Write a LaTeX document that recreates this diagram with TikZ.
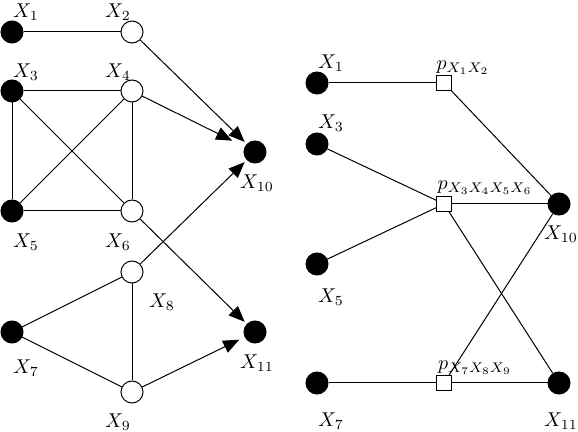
\documentclass[tikz,border=0pt]{standalone}
\usetikzlibrary{arrows.meta}
\begin{document}
\begin{tikzpicture}[x=0.5pt,y=-0.5pt,
  every path/.style={line width=0.5pt},
  obs/.style={circle,draw,fill=black,minimum size=11pt,inner sep=0pt},
  hid/.style={circle,draw,fill=white,minimum size=11pt,inner sep=0pt},
  fac/.style={rectangle,draw,fill=white,minimum size=7.5pt,inner sep=0pt},
  lab/.style={inner sep=0pt},
  arr/.style={-{Triangle[length=8pt,width=6.5pt]},shorten >=1.5pt}]
\useasboundingbox (0,0) rectangle (578,432);
% left graph
\node[obs] (a1) at (12,32) {};
\node[hid] (a2) at (132,32) {};
\node[obs] (a3) at (12,91) {};
\node[hid] (a4) at (132,91) {};
\node[obs] (a5) at (12,211) {};
\node[hid] (a6) at (132,211) {};
\node[obs] (a10) at (255,152) {};
\node[hid] (a8) at (132,272) {};
\node[obs] (a7) at (12,332) {};
\node[hid] (a9) at (132,392) {};
\node[obs] (a11) at (255,332) {};
\node[lab] (la1) at (26,12) {$X_1$};
\node[lab] (la2) at (118,12) {$X_2$};
\node[lab] (la3) at (26,72) {$X_3$};
\node[lab] (la4) at (118,72) {$X_4$};
\node[lab] (la5) at (26,242) {$X_5$};
\node[lab] (la6) at (118,242) {$X_6$};
\node[lab] (la8) at (162,302) {$X_8$};
\node[lab] (la7) at (26,368) {$X_7$};
\node[lab] (la9) at (118,422) {$X_9$};
\node[lab] (la10) at (257,183) {$X_{10}$};
\node[lab] (la11) at (257,363) {$X_{11}$};
\draw (a1) -- (a2);
\draw (a3) -- (a4);
\draw (a3) -- (a5);
\draw (a3) -- (a6);
\draw (a4) -- (a5);
\draw (a4) -- (a6);
\draw (a5) -- (a6);
\draw (a7) -- (a8);
\draw (a7) -- (a9);
\draw (a8) -- (a9);
\draw[arr] (a2) -- (a10);
\draw[arr,shorten >=7pt] (a4) -- (a10);
\draw[arr] (a8) -- (a10);
\draw[arr] (a6) -- (a11);
\draw[arr,shorten >=3pt] (a9) -- (a11);
% right graph
\node[obs] (b1) at (317,83) {};
\node[obs] (b3) at (317,144) {};
\node[obs] (b5) at (317,264) {};
\node[obs] (b7) at (317,383) {};
\node[obs] (b10) at (559,204) {};
\node[obs] (b11) at (559,383) {};
\node[fac] (p1) at (444,83) {};
\node[fac] (p2) at (444,204) {};
\node[fac] (p3) at (444,383) {};
\node[lab] (lb1) at (331,63) {$X_1$};
\node[lab] (lb3) at (331,123) {$X_3$};
\node[lab] (lb5) at (331,297) {$X_5$};
\node[lab] (lb7) at (331,421) {$X_7$};
\node[lab] (lb10) at (561,234) {$X_{10}$};
\node[lab] (lb11) at (561,421) {$X_{11}$};
\node[lab] (lp1) at (463,68) {$p_{X_1X_2}$};
\node[lab] (lp2) at (485,188) {$p_{X_3X_4X_5X_6}$};
\node[lab] (lp3) at (475,368) {$p_{X_7X_8X_9}$};
\draw (b1) -- (p1);
\draw (p1) -- (b10);
\draw (b3) -- (p2);
\draw (b5) -- (p2);
\draw (p2) -- (b10);
\draw (p2) -- (b11);
\draw (p3) -- (b10);
\draw (b7) -- (p3);
\draw (p3) -- (b11);
\end{tikzpicture}
\end{document}
